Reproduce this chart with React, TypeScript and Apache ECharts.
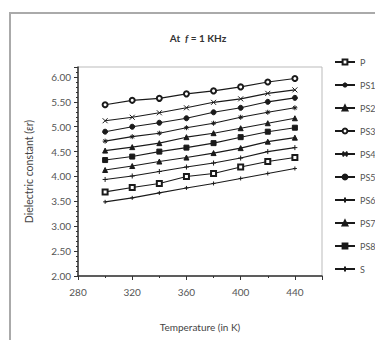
import React, { useEffect, useRef } from "react";
import * as echarts from "echarts";

const temperatures = [300, 320, 340, 360, 380, 400, 420, 440];

const P = [3.69, 3.78, 3.86, 4.0, 4.06, 4.19, 4.3, 4.38];
const PS1 = [4.71, 4.8, 4.87, 4.98, 5.07, 5.19, 5.29, 5.38];
const PS2 = [4.52, 4.59, 4.67, 4.79, 4.87, 4.97, 5.07, 5.17];
const PS3 = [5.44, 5.53, 5.57, 5.66, 5.72, 5.8, 5.9, 5.97];
const PS4 = [5.12, 5.19, 5.28, 5.38, 5.49, 5.56, 5.67, 5.74];
const PS5 = [4.9, 5.0, 5.08, 5.17, 5.29, 5.38, 5.5, 5.58];
const PS6 = [3.94, 4.01, 4.1, 4.19, 4.27, 4.37, 4.5, 4.58];
const PS7 = [4.13, 4.21, 4.3, 4.38, 4.47, 4.57, 4.7, 4.78];
const PS8 = [4.33, 4.4, 4.5, 4.58, 4.67, 4.79, 4.9, 4.98];
const S = [3.49, 3.57, 3.67, 3.77, 3.86, 3.96, 4.06, 4.16];

const seriesNames = ["P", "PS1", "PS2", "PS3", "PS4", "PS5", "PS6", "PS7", "PS8", "S"];
const seriesValues = [P, PS1, PS2, PS3, PS4, PS5, PS6, PS7, PS8, S];

const STAR = "path://M5,0L5,10M0,5L10,5M1.5,1.5L8.5,8.5M8.5,1.5L1.5,8.5";
const CROSS = "path://M0,0L10,10M10,0L0,10";
const PLUS = "path://M5,0L5,10M0,5L10,5";

const symbols: any[] = [
  ["emptyRect", 5],
  [STAR, 5],
  ["triangle", 5],
  ["emptyCircle", 5],
  [CROSS, 5],
  ["circle", 5],
  [PLUS, 5],
  ["triangle", 5],
  ["rect", 5],
  [PLUS, 4],
];

const FONT = "Lato";

export default function App() {
  const ref = useRef<HTMLDivElement>(null);
  useEffect(() => {
    if (!ref.current) return;
    const chart = echarts.init(ref.current, undefined, { renderer: "svg" });
    const series = seriesNames.map((name, i) => ({
      name,
      type: "line",
      data: temperatures.map((t, j) => [t, seriesValues[i][j]]),
      symbol: symbols[i][0],
      symbolSize: symbols[i][1],
      showAllSymbol: true,
      lineStyle: { color: "#1a1a1a", width: 1.1 },
      itemStyle: { color: "#1a1a1a", borderColor: "#1a1a1a", borderWidth: 1 },
    }));
    chart.setOption({
      animation: false,
      backgroundColor: "#fff",
      title: {
        text: "{a|At  }{f|f}{a| = 1 KHz}",
        left: 193,
        textAlign: "center",
        top: 28,
        textStyle: {
          rich: {
            a: { fontFamily: FONT, fontSize: 10, fontWeight: "bold", color: "#333" },
            f: { fontFamily: FONT, fontSize: 10, fontWeight: "bold", fontStyle: "italic", color: "#333" },
          },
        },
      },
      graphic: [
        {
          type: "rect",
          shape: { x: 10, y: 13, width: 400, height: 400 },
          style: { fill: "none", stroke: "#aaa", lineWidth: 2 },
          silent: true,
        },
      ],
      legend: {
        show: true,
        orient: "vertical",
        left: 334,
        top: 57,
        padding: 0,
        itemWidth: 20,
        itemHeight: 6,
        itemGap: 13,
        textStyle: { fontFamily: FONT, fontSize: 9, color: "#555", lineHeight: 10 },
      },
      grid: {
        left: 78,
        right: 53,
        top: 67,
        bottom: 64,
        show: true,
        borderColor: "#bbb",
        borderWidth: 1,
        containLabel: false,
      },
      xAxis: {
        type: "value",
        min: 280,
        max: 460,
        interval: 40,
        name: "Temperature (in K)",
        nameLocation: "middle",
        nameGap: 46,
        nameTextStyle: { fontFamily: FONT, fontSize: 10, color: "#444" },
        axisLine: { lineStyle: { color: "#333", width: 1.5 } },
        axisTick: { show: true, inside: false, length: 4, lineStyle: { color: "#333" } },
        minorTick: { show: true, splitNumber: 2, length: 2, lineStyle: { color: "#333" } },
        splitLine: { show: false },
        axisLabel: {
          margin: 11,
          fontFamily: FONT,
          fontSize: 10,
          color: "#555",
          formatter: (v: number) => ((v - 280) % 40 === 0 && v <= 440 ? String(v) : ""),
        },
      },
      yAxis: {
        type: "value",
        min: 2,
        max: 6.2,
        interval: 0.5,
        name: "Dielectric constant (εr)",
        nameLocation: "middle",
        nameGap: 44,
        nameTextStyle: { fontFamily: FONT, fontSize: 10.5, color: "#444" },
        axisLine: { show: true, lineStyle: { color: "#333", width: 1.5 } },
        axisTick: { show: true, length: 4, lineStyle: { color: "#333" } },
        minorTick: { show: true, splitNumber: 5, length: 2, lineStyle: { color: "#333" } },
        splitLine: { show: false },
        axisLabel: {
          margin: 7,
          fontFamily: FONT,
          fontSize: 10,
          color: "#555",
          formatter: (v: number) =>
            Math.abs(v * 2 - Math.round(v * 2)) < 1e-6 ? v.toFixed(2) : "",
        },
      },
      series,
    });
    return () => chart.dispose();
  }, []);
  return (
    <div
      ref={ref}
      style={{ position: "fixed", left: 0, top: 0, width: 375, height: 340 }}
    />
  );
}
